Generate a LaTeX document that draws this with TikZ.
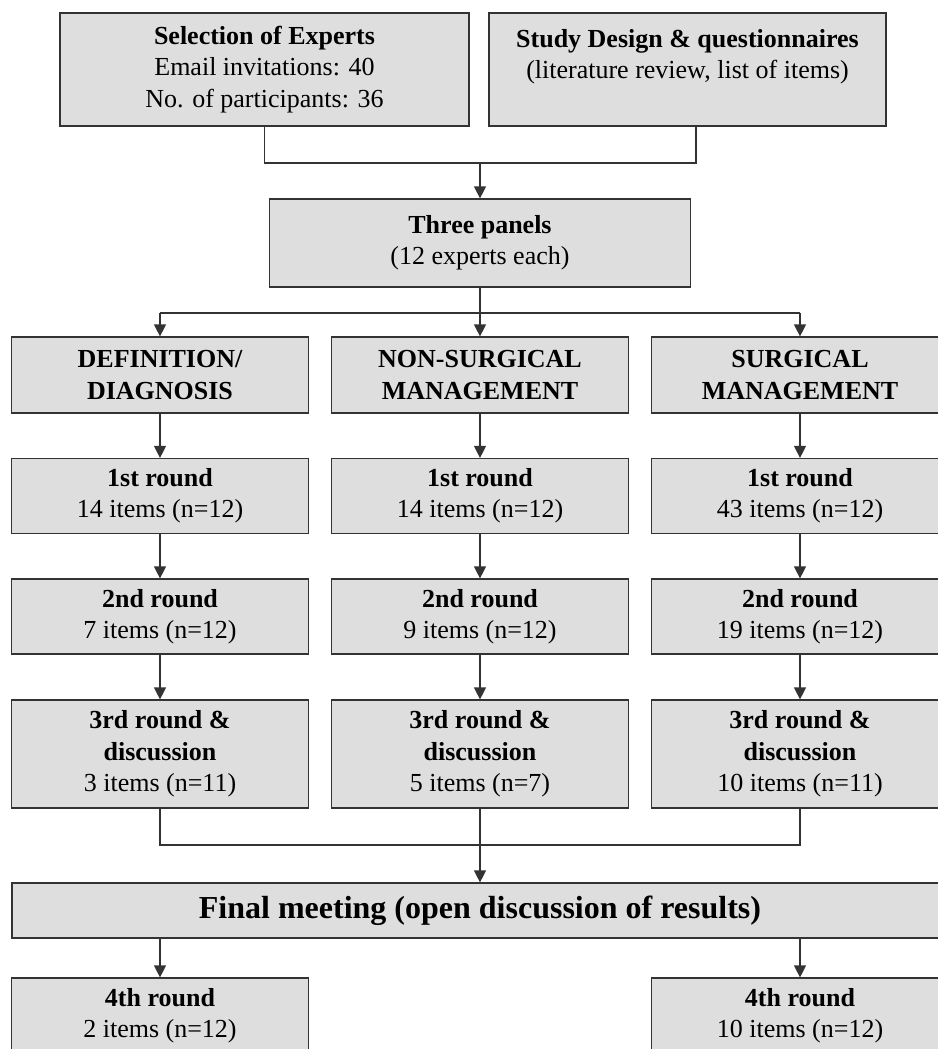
\documentclass[tikz,border=0pt]{standalone}
\usepackage{fontspec}
\setmainfont{Liberation Serif}
\usetikzlibrary{arrows.meta}

\begin{document}
\begin{tikzpicture}[x=0.75pt,y=-0.75pt,
    box/.style={draw=black!80, fill=black!13, line width=0.9pt, align=center,
      inner sep=2pt, font=\fontsize{19.5}{23.5}\selectfont},
    colbox/.style={box, minimum width=222.75pt, minimum height=#1},
    headbox/.style={colbox=57pt, font=\fontsize{19.5}{23.5}\selectfont\bfseries},
    line/.style={draw=black!80, line width=0.9pt},
    arrow/.style={line, -{Triangle[length=9pt,width=9pt]}}]
    \useasboundingbox (0,0) rectangle (938,1049);

    % 専門家の選定と調査設計
    \node[box, minimum width=306.75pt, minimum height=84.75pt] (sel) at (264.5,69.5)
      {\textbf{Selection of Experts}\\Email invitations: 40\\No. of participants: 36};
    \node[box, minimum width=297.75pt, minimum height=84.75pt] (study) at (687.5,69.5)
      {\textbf{Study Design \& questionnaires}\\(literature review, list of items)\\\mbox{}};
    \coordinate (join1) at (480,163);

    % 三つのパネル
    \node[box, minimum width=315.75pt, minimum height=66pt] (three) at (480,243)
      {\textbf{Three panels}\\(12 experts each)};
    \coordinate (join2) at (480,313);

    % 各パネルの見出し
    \node[headbox] (def) at (160,375) {DEFINITION/\\DIAGNOSIS};
    \node[headbox] (non) at (480,375) {NON-SURGICAL\\MANAGEMENT};
    \node[headbox] (sur) at (800,375) {SURGICAL\\MANAGEMENT};

    % 第1ラウンド
    \node[colbox=56.25pt] (def1) at (160,496) {\textbf{1st round}\\14 items (n=12)};
    \node[colbox=56.25pt] (non1) at (480,496) {\textbf{1st round}\\14 items (n=12)};
    \node[colbox=56.25pt] (sur1) at (800,496) {\textbf{1st round}\\43 items (n=12)};

    % 第2ラウンド
    \node[colbox=56.25pt] (def2) at (160,616.5) {\textbf{2nd round}\\7 items (n=12)};
    \node[colbox=56.25pt] (non2) at (480,616.5) {\textbf{2nd round}\\9 items (n=12)};
    \node[colbox=56.25pt] (sur2) at (800,616.5) {\textbf{2nd round}\\19 items (n=12)};

    % 第3ラウンドと議論
    \node[colbox=81pt] (def3) at (160,754) {\textbf{3rd round \&}\\\textbf{discussion}\\3 items (n=11)};
    \node[colbox=81pt] (non3) at (480,754) {\textbf{3rd round \&}\\\textbf{discussion}\\5 items (n=7)};
    \node[colbox=81pt] (sur3) at (800,754) {\textbf{3rd round \&}\\\textbf{discussion}\\10 items (n=11)};
    \coordinate (join3) at (480,845);

    % 最終会議
    \node[box, minimum width=702pt, minimum height=41.25pt,
      font=\fontsize{24}{28}\selectfont\bfseries] (final) at (480,910.5)
      {Final meeting (open discussion of results)};

    % 第4ラウンド
    \node[colbox=56.25pt] (def4) at (160,1015.5) {\textbf{4th round}\\2 items (n=12)};
    \node[colbox=56.25pt] (sur4) at (800,1015.5) {\textbf{4th round}\\10 items (n=12)};

    % 矢印
    \draw[line] (sel.south) |- (join1) -| ([xshift=6.4pt]study.south);
    \draw[arrow] (join1) -- (three);
    \draw[line] (three) -- (join2);
    \draw[line] (def |- join2) -- (sur |- join2);
    \draw[arrow] (def |- join2) -- (def);
    \draw[arrow] (join2) -- (non);
    \draw[arrow] (sur |- join2) -- (sur);

    \draw[arrow] (def) -- (def1);
    \draw[arrow] (non) -- (non1);
    \draw[arrow] (sur) -- (sur1);
    \draw[arrow] (def1) -- (def2);
    \draw[arrow] (non1) -- (non2);
    \draw[arrow] (sur1) -- (sur2);
    \draw[arrow] (def2) -- (def3);
    \draw[arrow] (non2) -- (non3);
    \draw[arrow] (sur2) -- (sur3);

    \draw[line] (def3) |- (join3) -| (sur3);
    \draw[arrow] (non3) -- (final);
    \draw[arrow] (final.south -| def4) -- (def4);
    \draw[arrow] (final.south -| sur4) -- (sur4);
  \end{tikzpicture}
\end{document}
